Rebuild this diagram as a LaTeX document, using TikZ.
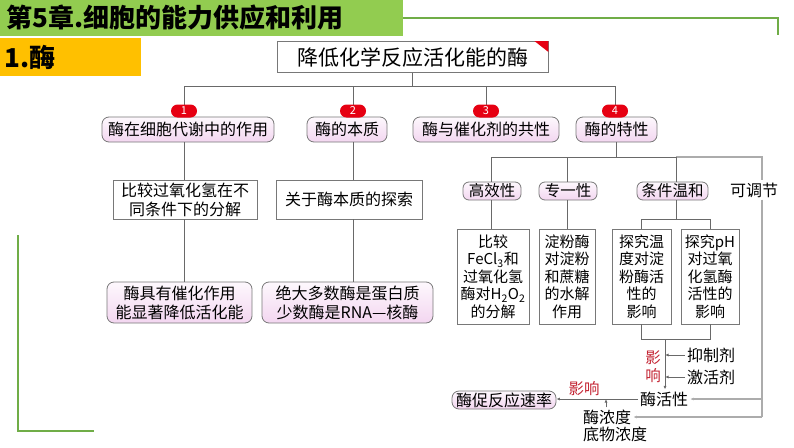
\documentclass[tikz,border=0pt]{standalone}
\usepackage{fontspec}
\setmainfont{Noto Sans CJK SC}
\usetikzlibrary{arrows.meta}
\definecolor{hdrgreen}{RGB}{146,204,80}
\definecolor{lgreen}{RGB}{112,173,71}
\definecolor{hdrorange}{RGB}{255,192,0}
\definecolor{linegray}{RGB}{105,105,105}
\definecolor{boxgray}{RGB}{120,120,120}
\definecolor{loopgray}{RGB}{172,172,172}
\definecolor{pinkA}{RGB}{253,248,253}
\definecolor{pinkB}{RGB}{243,214,240}
\definecolor{badgered}{RGB}{230,0,18}
\definecolor{txtred}{RGB}{195,35,50}
\tikzset{
  conn/.style={draw=linegray, line width=0.9pt},
  lconn/.style={draw=loopgray, line width=1.1pt},
  arr/.style={-{Latex[length=3.5pt,width=3pt]}},
  titlebox/.style={draw=boxgray, line width=0.9pt, fill=white, inner sep=0pt, minimum width=271, minimum height=31, font=\fontsize{21}{23}\selectfont},
  lvlone/.style={draw=boxgray, line width=0.8pt, rounded corners=7pt, top color=pinkA, bottom color=pinkB, inner sep=0pt, minimum height=25, font=\fontsize{16}{18}\selectfont},
  plainbox/.style={draw=boxgray, line width=0.8pt, fill=white, inner sep=0pt, minimum height=39, align=center, font=\fontsize{16}{19}\selectfont},
  pinkbox/.style={draw=boxgray, line width=0.8pt, rounded corners=7pt, top color=pinkA, bottom color=pinkB, inner sep=0pt, minimum height=41, align=center, font=\fontsize{16}{19}\selectfont},
  smallpink/.style={draw=boxgray, line width=0.8pt, rounded corners=6pt, top color=pinkA, bottom color=pinkB, inner sep=0pt, minimum height=18, font=\fontsize{15.5}{17}\selectfont},
  tallbox/.style={draw=boxgray, line width=0.8pt, fill=white, inner sep=0pt, minimum height=95, align=center, font=\fontsize{15}{17.5}\selectfont},
  badge/.style={fill=badgered, rounded corners=6.5pt, minimum width=26, minimum height=13, inner sep=0pt, text=white, font=\fontsize{11}{12}\selectfont},
  plaintext/.style={inner sep=2pt, font=\fontsize{16}{18}\selectfont},
  redtext/.style={inner sep=1pt, text=txtred, font=\fontsize{15.5}{17}\selectfont},
}
\begin{document}
\begin{tikzpicture}[x=1pt,y=-1pt]
\useasboundingbox (0,0) rectangle (794,447);
% header
\fill[hdrgreen] (0,0) rectangle (403,36);
\node[anchor=west, inner sep=0pt, font=\fontsize{26}{28}\selectfont\bfseries] (hdr) at (6,18) {第5章.细胞的能力供应和利用};
\coordinate (g1) at (403,18);
\coordinate (g2) at (778,18);
\coordinate (g3) at (778,35);
\draw[lgreen, line width=2.4pt] (g1) -- (g2) -- (g3);
\fill[hdrorange] (0,38) rectangle (141,76);
\node[anchor=west, inner sep=0pt, font=\fontsize{26}{28}\selectfont\bfseries] (sec) at (4,57) {1.酶};
\coordinate (l1) at (18,235);
\coordinate (l2) at (18,431);
\coordinate (l3) at (94,431);
\draw[lgreen, line width=2pt] (l1) -- (l2) -- (l3);

% title
\node[titlebox] (T) at (412.5,57) {降低化学反应活化能的酶};
\fill[badgered] (T.north east) -- ++(-14,0) -- ++(14,11) -- cycle;

% level one
\node[lvlone, minimum width=172] (A) at (188,129.5) {酶在细胞代谢中的作用};
\node[lvlone, minimum width=80] (B) at (347,129.5) {酶的本质};
\node[lvlone, minimum width=146] (C) at (486,129.5) {酶与催化剂的共性};
\node[lvlone, minimum width=81] (D) at (616.5,129.5) {酶的特性};

\coordinate (j0) at (412.5,86);
\coordinate (j1) at (184,86);
\coordinate (j2) at (353,86);
\coordinate (j3) at (486,86);
\coordinate (j4) at (615,86);
\draw[conn] (T.south) -- (j0);
\draw[conn] (j1) -- (j4);
\draw[conn] (j1) -- (j1 |- A.north);
\draw[conn] (j2) -- (j2 |- B.north);
\draw[conn] (j3) -- (j3 |- C.north);
\draw[conn] (j4) -- (j4 |- D.north);
\node[badge] (b1) at (184,111) {1};
\node[badge] (b2) at (353,111) {2};
\node[badge] (b3) at (486,111) {3};
\node[badge] (b4) at (615,111) {4};

% column 1 and 2
\node[plainbox, minimum width=144] (E) at (185,199.5) {比较过氧化氢在不\\同条件下的分解};
\node[pinkbox, minimum width=145] (F) at (179.5,302.5) {酶具有催化作用\\能显著降低活化能};
\node[plainbox, minimum width=146] (G) at (349,199.5) {关于酶本质的探索};
\node[pinkbox, minimum width=171] (H) at (347.5,302.5) {绝大多数酶是蛋白质\\少数酶是RNA—核酶};
\draw[conn] (j1 |- A.south) -- (j1 |- E.north);
\draw[conn] (j1 |- E.south) -- (j1 |- F.north);
\draw[conn] (j2 |- B.south) -- (j2 |- G.north);
\draw[conn] (j2 |- G.south) -- (j2 |- H.north);

% characteristics
\node[smallpink, minimum width=58] (I) at (492,191) {高效性};
\node[smallpink, minimum width=58] (J) at (568,191) {专一性};
\node[smallpink, minimum width=71] (K) at (672.5,191) {条件温和};
\node[plaintext] (L) at (754,190) {可调节};
\coordinate (k0) at (616,157);
\coordinate (k1) at (491,157);
\coordinate (k2) at (567,157);
\coordinate (k4) at (676,157);
\coordinate (k5) at (762,157);
\draw[conn] (k0 |- D.south) -- (k0);
\draw[conn] (k1) -- (k4);
\draw[lconn] (k4) -- (k5) -- (k5 |- L.north);
\draw[conn] (k1) -- (k1 |- I.north);
\draw[conn] (k2) -- (k2 |- J.north);
\draw[conn] (k4) -- (k4 |- K.north);

\node[tallbox, minimum width=72] (M) at (493,276.5) {比较\\FeCl\textsubscript{3}和\\过氧化氢\\酶对H\textsubscript{2}O\textsubscript{2}\\的分解};
\node[tallbox, minimum width=56] (N) at (567,276.5) {淀粉酶\\对淀粉\\和蔗糖\\的水解\\作用};
\node[tallbox, minimum width=59] (O) at (641.5,276.5) {探究温\\度对淀\\粉酶活\\性的\\影响};
\node[tallbox, minimum width=58] (P) at (710,276.5) {探究pH\\对过氧\\化氢酶\\活性的\\影响};
\coordinate (m0) at (676,219);
\draw[conn] (k1 |- I.south) -- (k1 |- M.north);
\draw[conn] (k2 |- J.south) -- (k2 |- N.north);
\draw[conn] (k4 |- K.south) -- (m0);
\draw[conn] (O.north |- m0) -- (P.north |- m0);
\draw[conn] (O.north |- m0) -- (O.north);
\draw[conn] (P.north |- m0) -- (P.north);

% bottom
\node[plaintext] (HX) at (664,399) {酶活性};
\node[plaintext, anchor=west] (Y1) at (685,355) {抑制剂};
\node[plaintext, anchor=west] (Y2) at (685,377) {激活剂};
\node[redtext] (ying) at (653,358) {影};
\node[redtext] (xiang) at (653,376) {响};
\coordinate (b0) at (665,339);
\draw[conn] (O.south) -- (O.south |- b0) -- (P.south |- b0) -- (P.south);
\draw[conn, arr] (b0) -- (b0 |- HX.north);
\draw[conn, arr] (Y1.west) -- (Y1.west -| b0);
\draw[conn, arr] (Y2.west) -- (Y2.west -| b0);

\node[lvlone, minimum width=104, minimum height=18, rounded corners=7pt] (R) at (504,400) {酶促反应速率};
\node[redtext] (yx) at (584,389) {影响};
\draw[conn, arr] (HX.west) -- (HX.west -| R.east);

\node[plaintext, anchor=west] (N1) at (581,417) {酶浓度};
\node[plaintext, anchor=west] (N2) at (581,434) {底物浓度};
\coordinate (up1) at (606,399);
\draw[conn, arr] (up1 |- N1.north) -- (up1);

\draw[lconn] (k5 |- L.south) -- (k5 |- N1.east);
\draw[lconn, arr] (k5 |- HX.east) -- (HX.east);
\draw[lconn, arr] (k5 |- N1.east) -- (N1.east);
\end{tikzpicture}
\end{document}
